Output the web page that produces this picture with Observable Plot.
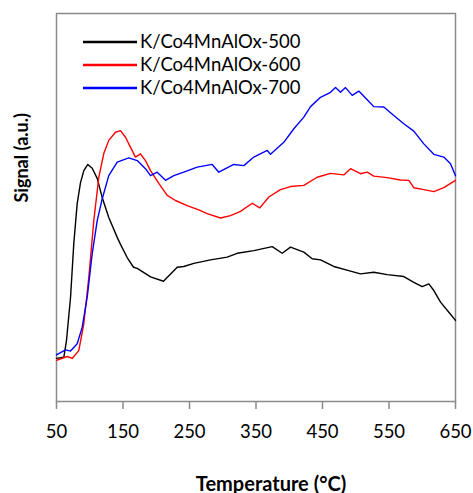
<!DOCTYPE html>
<html>
<head>
<meta charset="utf-8">
<script src="https://cdn.jsdelivr.net/npm/d3@7"></script>
<script src="https://cdn.jsdelivr.net/npm/@observablehq/plot@0.6"></script>
<style>
  html, body { margin: 0; padding: 0; background: #fff; }
  #chart { width: 473px; height: 493px; }
</style>
</head>
<body>
<div id="chart"></div>
<script>
// Temperature (°C) and signal (a.u.)
const temp500 = [50, 61, 65, 71.1, 76, 81.1, 86.1, 91.1, 97.1, 103.7, 111.2, 118.7, 128.6, 141.3, 146.2, 156.3, 165.8, 171.4, 191.4, 210.9, 231.5, 241.4, 256.5, 281.6, 306.7, 321.7, 346.7, 374.4, 389.4, 401.9, 421.9, 434.5, 447, 467, 492.1, 507.1, 527.1, 547.3, 572.3, 587.3, 599.9, 609.9, 617.4, 627.5, 640, 650];
const sig500  = [11.1, 11.4, 15.7, 26.8, 40.7, 51.0, 56.4, 59.5, 61.1, 60.1, 57.5, 52.6, 47.4, 42.3, 40.5, 37.1, 34.6, 34.3, 32.1, 31.0, 34.6, 34.8, 35.6, 36.5, 37.2, 38.2, 38.9, 39.9, 38.2, 39.8, 38.5, 36.8, 36.5, 34.8, 33.6, 32.9, 33.3, 32.7, 32.2, 30.7, 29.6, 30.3, 28.6, 25.6, 23.0, 20.9];

const temp600 = [50, 66.1, 73.6, 83.5, 91.1, 98.6, 106.1, 113.6, 121.1, 128.6, 138.7, 146.2, 153.8, 161.3, 168.8, 176.3, 183.8, 191.4, 203.8, 216.5, 228.9, 246.5, 264, 276.6, 296.6, 311.7, 326.7, 344.3, 355.7, 369.3, 386.8, 401.9, 421.9, 442, 462, 482, 492.1, 507.1, 517.2, 527.1, 547.3, 567.3, 579.8, 587.3, 602.4, 617.4, 632.4, 650];
const sig600  = [10.6, 11.6, 11.1, 13.1, 20.1, 32.0, 46.6, 57.8, 63.9, 67.3, 69.4, 69.8, 68.1, 65.5, 63.0, 63.8, 62.1, 59.5, 56.2, 53.1, 51.8, 50.5, 49.4, 48.4, 47.3, 47.9, 49.0, 51.1, 49.9, 52.7, 54.6, 55.4, 55.7, 57.8, 58.8, 58.4, 60.0, 58.7, 59.1, 58.1, 57.7, 57.1, 57.0, 55.1, 54.6, 54.1, 55.1, 57.0];

const temp700 = [50, 63.5, 71.1, 81.1, 88.6, 96.2, 103.7, 111.2, 118.7, 128.6, 141.3, 158.7, 171.4, 183.8, 191.4, 201.4, 213.9, 226.4, 241.4, 261.6, 284.1, 294.1, 316.6, 331.7, 346.7, 366.9, 371.8, 391.8, 406.9, 421.9, 432, 447, 462, 469.6, 477.1, 484.6, 494.7, 504.6, 517.2, 527.1, 542.2, 557.2, 572.3, 587.3, 602.4, 617.4, 632.4, 642.5, 650];
const sig700  = [12.0, 13.3, 13.0, 14.9, 19.1, 26.9, 38.1, 46.6, 52.2, 58.2, 61.7, 62.8, 62.1, 60.0, 58.2, 59.1, 57.0, 58.2, 59.1, 60.4, 61.1, 59.1, 61.1, 60.8, 63.0, 64.7, 63.7, 66.8, 70.3, 73.3, 76.0, 78.4, 79.7, 80.9, 79.7, 80.9, 78.9, 80.0, 77.8, 76.0, 75.9, 73.7, 71.6, 69.7, 66.4, 63.7, 63.0, 61.3, 58.2];

const seriesNames  = ["K/Co4MnAlOx-500", "K/Co4MnAlOx-600", "K/Co4MnAlOx-700"];
const seriesColors = ["#000000", "#ff0000", "#0000ff"];
const xTicks = [50, 150, 250, 350, 450, 550, 650];

const allTemps = [temp500, temp600, temp700];
const allSigs  = [sig500, sig600, sig700];
const rows = [];
seriesNames.forEach((name, i) => {
  allTemps[i].forEach((t, j) => rows.push({series: name, temp: t, signal: allSigs[i][j]}));
});

const FONT = "Lato, 'Open Sans', sans-serif";
const GRAY = "#8a8a8a";

const chart = Plot.plot({
  width: 473,
  height: 493,
  marginLeft: 56,
  marginRight: 18,
  marginTop: 13,
  marginBottom: 92,
  style: {fontFamily: FONT, fontSize: "18px", color: "#000", background: "#fff"},
  x: {domain: [50, 650], ticks: xTicks},
  y: {domain: [0, 100]},
  color: {domain: seriesNames, range: seriesColors},
  marks: [
    Plot.frame({stroke: GRAY, strokeWidth: 1.5}),
    Plot.axisX({ticks: xTicks, tickSize: 8, tickPadding: 15, stroke: GRAY, strokeWidth: 1.5, fontSize: 18.5, label: null, tickFormat: d => String(d)}),
    Plot.axisY({ticks: [], label: null}),
    Plot.line(rows, {x: "temp", y: "signal", z: "series", stroke: "series", strokeWidth: 1.4, curve: "linear"}),
    Plot.text(["Temperature (°C)"], {frameAnchor: "bottom", dx: 15, dy: 89, fontWeight: "bold", fontSize: 20}),
    Plot.text(["Signal (a.u.)"], {frameAnchor: "left", dx: -34, dy: -5, rotate: -90, fontWeight: "bold", fontSize: 18})
  ]
});

// Legend in the upper-left corner of the frame
const svg = d3.select(chart);
const lg = svg.append("g").attr("font-family", FONT).attr("font-size", 18.5).attr("text-anchor", "start");
seriesNames.forEach((name, i) => {
  const y = 42 + i * 23;
  lg.append("line").attr("x1", 83).attr("x2", 137).attr("y1", y).attr("y2", y)
    .attr("stroke", seriesColors[i]).attr("stroke-width", 2.6);
  lg.append("text").attr("x", 140).attr("y", y).attr("dy", "0.35em").attr("fill", "#000").attr("text-anchor", "start").text(name);
});

document.getElementById("chart").appendChild(chart);
</script>
</body>
</html>
